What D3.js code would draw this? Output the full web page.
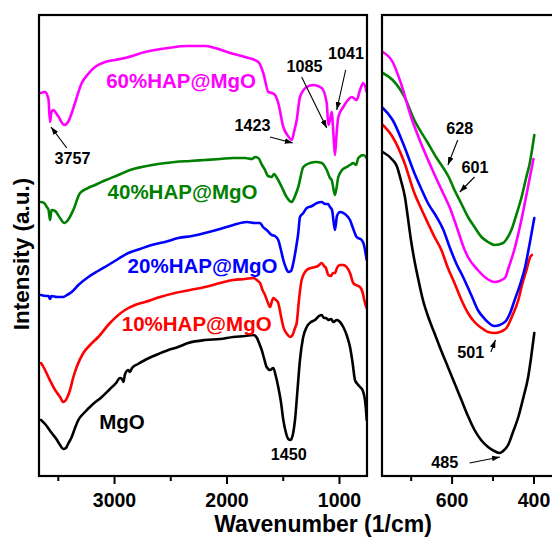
<!DOCTYPE html>
<html><head><meta charset="utf-8">
<script src="https://cdn.jsdelivr.net/npm/d3@7/dist/d3.min.js"></script>
<style>body{margin:0;background:#fff}svg{display:block}</style>
</head><body>
<svg id="chart" width="552" height="537"></svg>
<script>
// ---------------- DATA ----------------
const seriesNames = ["MgO", "10%HAP@MgO", "20%HAP@MgO", "40%HAP@MgO", "60%HAP@MgO"];
const leftMajorTicks = [3000, 2000, 1000];
const leftMinorTicks = [3500, 2500, 1500];
const rightMajorTicks = [600, 400];
const rightMinorTicks = [700, 500];

// [wavenumber, intensity (a.u.)]
const mgoLeft = [[3649,56],[3613,52],[3554,43],[3507,36],[3480,31],[3451,27],[3427,28],[3409,32],[3376,39],[3347,48],[3317,56],[3258,64],[3196,71],[3109,79],[3036,87],[2982,93],[2947,98],[2929,97],[2917,94],[2902,102],[2873,106],[2858,104],[2840,108],[2787,112],[2724,116],[2627,121],[2517,126],[2431,129],[2340,133],[2191,136],[2058,137],[1940,139],[1836,140],[1762,141],[1729,138],[1707,132],[1687,126],[1667,118],[1643,109],[1613,106],[1584,108],[1564,101],[1540,89],[1516,74],[1495,56],[1471,43],[1451,37],[1431,36],[1409,42],[1391,56],[1369,86],[1347,116],[1320,138],[1287,149],[1249,154],[1213,156],[1178,160],[1154,161],[1133,158],[1116,158],[1095,156],[1071,157],[1049,154],[1020,156],[991,154],[962,149],[929,140],[902,129],[880,114],[858,96],[836,92],[813,89],[791,86],[769,76],[760,66],[754,56]];
const hap10Left = [[3649,113],[3622,108],[3584,99],[3524,86],[3480,79],[3451,74],[3418,78],[3391,86],[3364,98],[3332,109],[3273,123],[3213,131],[3140,139],[3036,153],[2902,166],[2813,171],[2724,174],[2591,179],[2458,183],[2324,186],[2191,189],[2058,193],[1940,196],[1836,197],[1762,198],[1720,195],[1702,193],[1680,186],[1658,181],[1631,173],[1613,169],[1598,174],[1584,178],[1560,176],[1540,173],[1516,160],[1495,149],[1462,142],[1436,139],[1413,141],[1391,148],[1376,153],[1356,176],[1332,196],[1287,206],[1249,208],[1213,209],[1187,210],[1154,213],[1133,210],[1116,208],[1095,201],[1071,200],[1053,203],[1036,203],[1018,208],[991,211],[964,211],[932,209],[902,203],[873,193],[849,191],[813,189],[791,184],[769,173],[754,168]];
const hap20Left = [[3649,181],[3604,180],[3582,180],[3569,177],[3556,180],[3507,179],[3451,179],[3418,181],[3376,184],[3317,191],[3228,199],[3142,205],[3051,211],[2964,217],[2873,223],[2769,227],[2665,231],[2547,234],[2428,238],[2307,240],[2191,243],[2058,247],[1940,251],[1820,254],[1747,253],[1702,253],[1676,249],[1643,246],[1598,241],[1569,240],[1540,236],[1516,226],[1495,216],[1471,208],[1451,204],[1427,205],[1406,213],[1382,228],[1362,243],[1347,259],[1317,263],[1287,268],[1240,270],[1196,273],[1154,274],[1124,272],[1098,272],[1080,269],[1062,266],[1036,246],[1018,260],[991,264],[947,262],[902,256],[876,248],[843,239],[798,236],[778,231],[754,216]];
const hap40Left = [[3649,274],[3622,273],[3598,269],[3582,266],[3569,256],[3556,266],[3524,265],[3480,258],[3442,253],[3409,256],[3362,266],[3302,283],[3231,288],[3169,291],[3071,296],[2962,301],[2858,306],[2754,309],[2609,312],[2458,314],[2324,315],[2191,316],[2058,317],[1940,318],[1836,318],[1773,317],[1747,319],[1717,318],[1684,311],[1658,306],[1631,300],[1598,299],[1578,302],[1551,298],[1509,289],[1471,280],[1420,274],[1391,280],[1362,289],[1317,309],[1258,313],[1204,314],[1154,313],[1109,306],[1080,298],[1065,296],[1036,281],[1006,299],[973,306],[932,309],[902,311],[873,313],[849,311],[828,318],[784,321],[754,318]];
const hap60Left = [[3649,383],[3613,384],[3591,380],[3582,376],[3569,354],[3556,364],[3542,366],[3498,360],[3442,351],[3409,354],[3373,364],[3347,373],[3287,393],[3231,402],[3169,409],[3080,414],[2991,416],[2902,418],[2724,424],[2520,428],[2354,430],[2191,430],[2102,428],[1969,423],[1836,419],[1717,414],[1673,403],[1628,384],[1596,383],[1569,381],[1540,373],[1495,349],[1453,340],[1420,336],[1400,344],[1376,356],[1347,379],[1287,389],[1228,391],[1154,388],[1109,373],[1095,351],[1080,356],[1065,364],[1049,341],[1036,321],[1022,341],[1006,359],[962,369],[920,376],[887,379],[843,376],[813,386],[784,393],[754,384]];

const mgoRight = [[768,324],[744,316],[734,310],[724,296],[714,279],[707,259],[700,238],[691,216],[681,196],[670,176],[657,159],[642,143],[626,126],[609,109],[592,92],[576,76],[560,60],[544,46],[528,36],[511,29],[496,25],[482,23],[474,25],[462,31],[450,44],[437,59],[425,78],[413,99],[406,118],[398,143]];
const hap10Right = [[768,351],[744,339],[715,313],[691,283],[675,268],[658,253],[643,240],[625,226],[609,208],[593,193],[577,177],[560,163],[544,154],[527,148],[511,144],[495,143],[482,144],[466,148],[452,160],[437,176],[428,191],[417,206],[408,219],[404,221]];
const hap20Right = [[768,368],[744,356],[715,329],[691,303],[675,288],[658,273],[638,260],[620,246],[604,228],[588,212],[572,199],[552,181],[536,166],[519,157],[495,150],[470,154],[457,163],[446,176],[433,191],[421,208],[409,233],[398,258]];
const hap40Right = [[768,403],[744,396],[715,379],[691,356],[658,333],[638,319],[617,306],[607,299],[593,286],[577,273],[560,259],[544,249],[527,239],[511,234],[495,231],[474,233],[464,238],[454,246],[442,261],[429,279],[418,298],[409,313],[398,341]];
const hap60Right = [[768,424],[744,414],[724,393],[699,359],[675,333],[650,309],[621,283],[605,269],[585,246],[568,226],[560,219],[536,206],[516,198],[495,194],[470,198],[461,208],[447,226],[428,259],[413,290],[400,317]];

// ---------------- LAYOUT ----------------
const plotTop = 15, plotBottom = 476;
const L = {x0: 39, x1: 367};
const R = {x0: 382, x1: 556};
const colors = ["#000000", "#ff0000", "#0000ff", "#008000", "#ff00ff"];
const leftSeries = [mgoLeft, hap10Left, hap20Left, hap40Left, hap60Left];
const rightSeries = [mgoRight, hap10Right, hap20Right, hap40Right, hap60Right];

const svg = d3.select("#chart");
const font = "'Liberation Sans', Arial, Helvetica, sans-serif";

const xL = d3.scaleLinear().domain([3667, 751]).range([L.x0, L.x1]);
const xR = d3.scaleLinear().domain([770, 345]).range([R.x0, R.x1]);
const y = d3.scaleLinear().domain([0, 461]).range([plotBottom, plotTop]);

const defs = svg.append("defs");
defs.append("marker")
  .attr("id", "arr").attr("viewBox", "0 0 10 10").attr("refX", 10).attr("refY", 5)
  .attr("markerWidth", 8).attr("markerHeight", 8).attr("markerUnits", "userSpaceOnUse")
  .attr("orient", "auto")
  .append("path").attr("d", "M0,1.5L10,5L0,8.5Z").attr("fill", "#000");
defs.append("clipPath").attr("id", "clipL").append("rect")
  .attr("x", L.x0).attr("y", plotTop).attr("width", L.x1 - L.x0).attr("height", plotBottom - plotTop);
defs.append("clipPath").attr("id", "clipR").append("rect")
  .attr("x", R.x0).attr("y", plotTop).attr("width", R.x1 - R.x0).attr("height", plotBottom - plotTop);

function drawPanel(x, series, clipId, major, minor, p) {
  const line = d3.line().x(d => x(d[0])).y(d => y(d[1])).curve(d3.curveMonotoneX);
  const g = svg.append("g").attr("clip-path", `url(#${clipId})`);
  series.forEach((s, i) => {
    g.append("path").datum(s).attr("d", line)
      .attr("fill", "none").attr("stroke", colors[i]).attr("stroke-width", 2.6)
      .attr("stroke-linejoin", "round").attr("stroke-linecap", "round");
  });
  const gmin = svg.append("g").attr("transform", `translate(0,${plotBottom})`)
    .call(d3.axisBottom(x).tickValues(minor).tickSize(5).tickFormat(""));
  gmin.select(".domain").remove();
  gmin.selectAll("line").attr("stroke-width", 2);
  const gmaj = svg.append("g").attr("transform", `translate(0,${plotBottom})`)
    .call(d3.axisBottom(x).tickValues(major).tickSize(8).tickPadding(9).tickFormat(d3.format("d")));
  gmaj.select(".domain").remove();
  gmaj.selectAll("line").attr("stroke-width", 2);
  gmaj.selectAll("text").attr("font-family", font).attr("font-size", 19.5)
    .attr("font-weight", "bold").attr("fill", "#000");
  svg.append("rect").attr("x", p.x0).attr("y", plotTop).attr("width", p.x1 - p.x0)
    .attr("height", plotBottom - plotTop).attr("fill", "none").attr("stroke", "#000").attr("stroke-width", 2.2);
}
drawPanel(xL, leftSeries, "clipL", leftMajorTicks, leftMinorTicks, L);
drawPanel(xR, rightSeries, "clipR", rightMajorTicks, rightMinorTicks, R);

const seriesLabelPos = [[2929, 47], [2265, 145], [2213, 203], [2391, 277], [2404, 388]];
seriesNames.forEach((n, i) => {
  svg.append("text").attr("x", xL(seriesLabelPos[i][0])).attr("y", y(seriesLabelPos[i][1]))
    .attr("text-anchor", "middle").attr("font-family", font).attr("font-weight", "bold")
    .attr("font-size", 20.5).attr("fill", colors[i]).text(n);
});

function ann(x, label, lx, ly, from, to) {
  svg.append("text").attr("x", x(lx)).attr("y", y(ly)).attr("text-anchor", "middle")
    .attr("font-family", font).attr("font-weight", "bold").attr("font-size", 16.2)
    .attr("fill", "#000").text(label);
  if (from) {
    svg.append("line").attr("x1", x(from[0])).attr("y1", y(from[1]))
      .attr("x2", x(to[0])).attr("y2", y(to[1])).attr("stroke", "#000")
      .attr("stroke-width", 1.1).attr("marker-end", "url(#arr)");
  }
}
ann(xL, "3757", 3369, 312, [3420, 328], [3560, 349]);
ann(xL, "1450", 1446, 16, null, null);
ann(xL, "1423", 1769, 345, [1613, 339], [1411, 333]);
ann(xL, "1085", 1307, 404, [1332, 399], [1109, 348]);
ann(xL, "1041", 938, 417, [941, 406], [1020, 366]);
ann(xR, "628", 580, 342, [585, 336], [609, 311]);
ann(xR, "601", 543, 303, [544, 299], [580, 284]);
ann(xR, "501", 553, 118, [504, 124], [493, 136]);
ann(xR, "485", 617, 8, [556, 13], [482, 19]);

svg.append("text").attr("x", 323).attr("y", 531.5).attr("text-anchor", "middle")
  .attr("font-family", font).attr("font-weight", "bold").attr("font-size", 23)
  .text("Wavenumber (1/cm)");
svg.append("text").attr("transform", "translate(29,254) rotate(-90)").attr("text-anchor", "middle")
  .attr("font-family", font).attr("font-weight", "bold").attr("font-size", 22.5)
  .text("Intensity (a.u.)");
</script>
</body></html>
